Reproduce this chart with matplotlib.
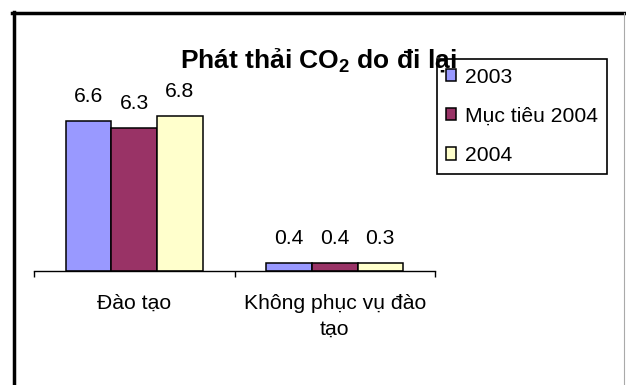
import matplotlib
matplotlib.use("Agg")
import matplotlib.pyplot as plt
from matplotlib.lines import Line2D
import numpy as np

categories = ["Đào tạo", "Không phục vụ đào\ntạo"]
series_names = ["2003", "Mục tiêu 2004", "2004"]
values_2003 = [6.6, 0.36]
values_target = [6.3, 0.36]
values_2004 = [6.8, 0.34]
colors = ["#9999FF", "#993366", "#FFFFCC"]
title = r"Phát thải CO$_\mathregular{2}$ do đi lại"

plt.rcParams['font.family'] = ['Liberation Sans', 'DejaVu Sans']
plt.rcParams['mathtext.fontset'] = 'custom'
plt.rcParams['mathtext.rm'] = 'Liberation Sans:bold'

FS = 15.2
W, H = 626, 385
fig = plt.figure(figsize=(W / 100, H / 100), dpi=100)
fig.patch.set_facecolor("white")

# axes placement in pixels
x0, x1 = 34, 435
ybot, ytop = 271, 66
ax = fig.add_axes([x0 / W, 1 - ybot / H, (x1 - x0) / W, (ybot - ytop) / H])

series = [values_2003, values_target, values_2004]
x = np.arange(len(categories))
bw = 0.227
for i, (vals, name, c) in enumerate(zip(series, series_names, colors)):
    pos = x + (i - 1) * bw
    bars = ax.bar(pos, vals, width=bw, color=c, edgecolor="black", linewidth=1.1, label=name, zorder=2)
    for b, v in zip(bars, vals):
        ax.annotate(f"{v:.1f}", (b.get_x() + b.get_width() / 2, b.get_height()),
                    xytext=(0, 17.5), textcoords="offset points", ha="center", va="center",
                    fontsize=FS)

ax.set_xlim(-0.5, 1.5)
ax.set_ylim(0, 9)
for s in ["top", "right", "left"]:
    ax.spines[s].set_visible(False)
ax.spines["bottom"].set_linewidth(1.0)
ax.set_yticks([])
ax.set_xticks([-0.5, 0.5, 1.5], minor=True)
ax.tick_params(axis="x", which="minor", direction="out", length=4.5, width=1.0, color="black")
ax.set_xticks(x)
ax.set_xticklabels(categories, fontsize=FS)
ax.tick_params(axis="x", which="major", length=0, pad=16.5)
for lab in ax.get_xticklabels():
    lab.set_linespacing(1.45)

leg = ax.legend(loc="upper left", bbox_to_anchor=(437 / W, 1 - 59 / H), bbox_transform=fig.transFigure,
                borderaxespad=0, fontsize=FS, frameon=True, fancybox=False, shadow=False,
                handlelength=0.5, handleheight=0.5, handletextpad=0.4, labelspacing=0.95,
                borderpad=0.42)
leg.get_frame().set_edgecolor("black")
leg.get_frame().set_linewidth(1.2)
leg.get_frame().set_alpha(1)

fig.text(318 / W, 1 - 60 / H, title, ha="center", va="center", fontsize=19, fontweight="bold", zorder=10)

# outer frame
fig.add_artist(Line2D([12 / W, 1], [1 - 13 / H, 1 - 13 / H], transform=fig.transFigure, color="black", linewidth=2.5))
fig.add_artist(Line2D([13.5 / W, 13.5 / W], [0, 1 - 12 / H], transform=fig.transFigure, color="black", linewidth=2.5))
fig.add_artist(Line2D([624 / W, 624 / W], [0, 1 - 13 / H], transform=fig.transFigure, color="#aaaaaa", linewidth=0.8))

fig.savefig("out.png", dpi=100)
